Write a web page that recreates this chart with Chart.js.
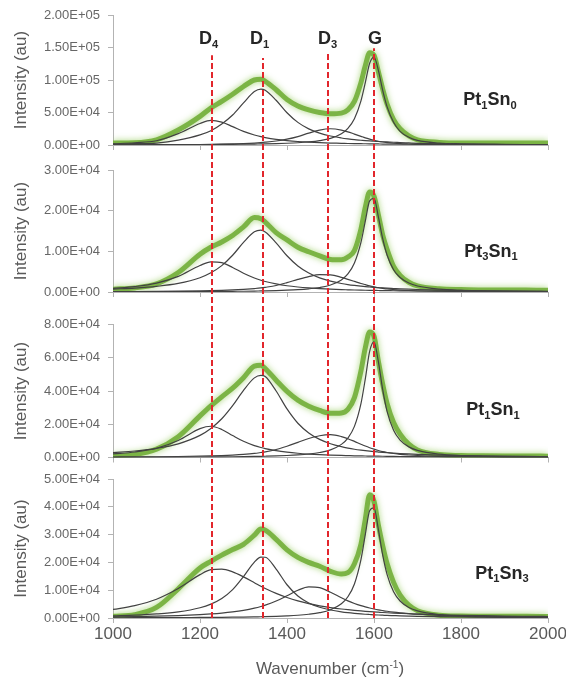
<!DOCTYPE html>
<html>
<head>
<meta charset="utf-8">
<title>Raman spectra fits</title>
<script src="https://cdn.jsdelivr.net/npm/chart.js@4.4.1/dist/chart.umd.min.js"></script>
<style>
  body { margin: 0; background: #fff; }
  #wrap { position: relative; width: 566px; height: 677px; font-family: "Liberation Sans", Arial, sans-serif; }
  #wrap canvas { position: absolute; left: 0; }
  .peak, .sample { position: absolute; font-weight: bold; color: #262626; white-space: nowrap; line-height: 20px; }
  .peak { font-size: 18px; }
  .sample { font-size: 18px; transform: translateX(-50%); }
  .peak sub, .sample sub { font-size: 0.62em; vertical-align: baseline; position: relative; top: 0.32em; }
  #xtitle { position: absolute; left: 330px; top: 659px; transform: translateX(-50%); font-size: 17px; color: #595959; line-height: 20px; white-space: nowrap; }
  #xtitle sup { font-size: 0.6em; vertical-align: baseline; position: relative; top: -0.6em; }
</style>
</head>
<body>
<div id="wrap">
  <canvas id="p1" width="566" height="158" style="top:0px"></canvas>
  <canvas id="p2" width="566" height="152" style="top:158px"></canvas>
  <canvas id="p3" width="566" height="158" style="top:310px"></canvas>
  <canvas id="p4" width="566" height="209" style="top:468px"></canvas>
  <div id="xtitle">Wavenumber (cm<sup>-1</sup>)</div>
</div>
<script>
// --- DATA (intensities in units of 1e3 au) ---
const wavenumber = [1000, 1050, 1100, 1150, 1200, 1225, 1250, 1275, 1300, 1325, 1340, 1350, 1375, 1400, 1425,
  1450, 1475, 1500, 1525, 1540, 1555, 1570, 1580, 1590, 1600, 1610, 1620, 1630, 1645, 1660,
  1680, 1700, 1750, 1800, 1850, 1900, 1950, 2000];
const xTicks = [1000, 1200, 1400, 1600, 1800, 2000];

const peakLabels = ['D<sub>4</sub>', 'D<sub>1</sub>', 'D<sub>3</sub>', 'G'];
const peakPositions = [1227, 1344, 1495, 1600];
const peakLineTops = [138, 134, 141.5, 149]; // where each dashed line starts, top panel units

const sampleLabels = ['Pt<sub>1</sub>Sn<sub>0</sub>', 'Pt<sub>3</sub>Sn<sub>1</sub>', 'Pt<sub>1</sub>Sn<sub>1</sub>', 'Pt<sub>1</sub>Sn<sub>3</sub>'];

const yTicksPt1Sn0 = [0, 50, 100, 150, 200];
const yTicksPt3Sn1 = [0, 10, 20, 30];
const yTicksPt1Sn1 = [0, 20, 40, 60, 80];
const yTicksPt1Sn3 = [0, 10, 20, 30, 40, 50];

// Pt1Sn0
const pt1sn0Measured = [3, 3.5, 8, 23, 44, 57, 67, 78, 90, 100, 101, 98, 85, 70, 60, 54, 50, 48, 49, 54,
  67, 96, 122, 142, 138, 113, 86, 63, 39, 25, 14, 8, 4, 3, 3, 3, 3, 3];
const pt1sn0D4 = [1.8, 3.5, 6.5, 17.5, 33, 38, 35.3, 28.3, 21, 15.4, 12.8, 11.4, 8.7, 6.8, 5.4, 4.4, 3.6, 3.0, 2.6, 2.3,
  2.1, 2.0, 1.9, 1.8, 1.7, 1.6, 1.5, 1.5, 1.35, 1.26, 1.15, 1.06, 0.87, 0.73, 0.62, 0.53, 0.47, 0.41];
const pt1sn0D1 = [1.2, 2.0, 3.0, 7.5, 15.5, 22, 32.4, 46.2, 64.8, 82.2, 86, 84.3, 68.8, 49.6, 34.8, 24.8, 18.2, 13.8, 10.8, 9.4,
  8.2, 7.3, 6.7, 6.2, 5.8, 5.4, 5.0, 4.7, 4.2, 3.8, 3.2, 2.6, 1.7, 1.2, 0.9, 0.8, 0.7, 0.6];
const pt1sn0D3 = [0.2, 0.3, 0.4, 0.6, 0.8, 1.0, 1.3, 1.7, 2.2, 3.0, 3.7, 4.3, 6.2, 9.0, 13, 18.3, 23, 25, 23, 20.3,
  16.8, 13.3, 11, 9, 7.2, 5.8, 4.6, 3.7, 2.7, 2.0, 1.5, 1.1, 0.6, 0.4, 0.3, 0.2, 0.2, 0.1];
const pt1sn0G = [0.3, 0.35, 0.43, 0.53, 0.67, 0.76, 0.87, 1.0, 1.2, 1.4, 1.6, 1.7, 2.1, 2.7, 3.5, 4.7, 6.7, 10.3, 17.4, 25.7,
  40.5, 68, 96, 125.7, 135.3, 114.9, 84, 59, 35, 21, 12, 7, 3, 1.8, 1.2, 0.9, 0.7, 0.6];

// Pt3Sn1
const pt3sn1Measured = [0.7, 1.0, 2.0, 4.8, 9.3, 11.0, 12.3, 13.9, 16.0, 18.3, 18.0, 17.2, 14.6, 12.8, 11.0, 9.9, 8.9, 8.0, 7.9, 8.6,
  10.2, 15.5, 20.8, 24.6, 23.6, 19.0, 14.0, 10.5, 6.3, 4.1, 2.4, 1.5, 0.8, 0.6, 0.5, 0.5, 0.5, 0.4];
const pt3sn1D4 = [0.88, 1.33, 2.17, 3.84, 6.52, 7.43, 7.21, 6.03, 4.63, 3.45, 2.9, 2.59, 1.98, 1.54, 1.23, 1.0, 0.82, 0.69, 0.59, 0.54,
  0.49, 0.45, 0.43, 0.41, 0.39, 0.37, 0.35, 0.34, 0.31, 0.29, 0.27, 0.24, 0.2, 0.17, 0.14, 0.12, 0.11, 0.09];
const pt3sn1D1 = [0.72, 0.97, 1.38, 2.1, 3.5, 4.71, 6.48, 9.03, 12.2, 14.8, 15.2, 14.76, 12.1, 8.91, 6.39, 4.65, 3.46, 2.66, 2.09, 1.82,
  1.61, 1.43, 1.32, 1.23, 1.14, 1.07, 1.0, 0.94, 0.86, 0.78, 0.69, 0.62, 0.48, 0.38, 0.31, 0.26, 0.22, 0.19];
const pt3sn1D3 = [0.1, 0.12, 0.15, 0.2, 0.28, 0.33, 0.4, 0.5, 0.65, 0.85, 1.0, 1.15, 1.6, 2.3, 3.1, 3.8, 4.25, 4.2, 3.6, 3.1,
  2.6, 2.1, 1.8, 1.5, 1.25, 1.05, 0.9, 0.75, 0.6, 0.48, 0.37, 0.3, 0.19, 0.13, 0.1, 0.08, 0.06, 0.05];
const pt3sn1G = [0.05, 0.06, 0.07, 0.09, 0.11, 0.12, 0.14, 0.17, 0.19, 0.23, 0.26, 0.28, 0.35, 0.44, 0.57, 0.78, 1.11, 1.72, 2.97, 4.43,
  7.11, 12.2, 17.4, 22.4, 23.0, 18.5, 13.1, 9.09, 5.48, 3.55, 2.2, 1.48, 0.7, 0.4, 0.26, 0.18, 0.14, 0.1];

// Pt1Sn1
const pt1sn1Measured = [0.8, 1.8, 5.0, 12.5, 25.0, 31.0, 36.5, 41.7, 48.0, 55.0, 55.5, 53.5, 46.5, 39.8, 34.5, 30.8, 28.3, 26.6, 26.8, 29.0,
  36.0, 52.0, 66.0, 75.5, 73.0, 58.0, 44.0, 32.5, 21.0, 14.0, 8.0, 4.5, 1.8, 1.2, 1.0, 0.9, 0.9, 0.8];
const pt1sn1D4 = [2.14, 3.31, 5.59, 10.26, 17.36, 18.8, 16.88, 13.22, 9.76, 7.16, 5.99, 5.34, 4.08, 3.19, 2.55, 2.08, 1.72, 1.45, 1.23, 1.13,
  1.03, 0.95, 0.9, 0.86, 0.81, 0.77, 0.74, 0.71, 0.65, 0.61, 0.56, 0.51, 0.42, 0.35, 0.3, 0.26, 0.23, 0.2];
const pt1sn1D1 = [2.91, 3.91, 5.51, 8.24, 13.3, 17.46, 23.3, 31.2, 40.4, 47.9, 49.4, 48.7, 40, 29.2, 20.6, 14.8, 10.9, 8.3, 6.5, 5.67,
  4.98, 4.41, 4.08, 3.78, 3.52, 3.29, 3.07, 2.88, 2.62, 2.39, 2.13, 1.9, 1.46, 1.16, 0.95, 0.79, 0.67, 0.58];
const pt1sn1D3 = [0.3, 0.36, 0.45, 0.6, 0.8, 0.95, 1.15, 1.45, 1.85, 2.45, 3.0, 3.4, 4.8, 6.8, 9.1, 11.4, 13.1, 13.7, 12.6, 11.3,
  9.7, 8.0, 6.9, 5.9, 5.0, 4.2, 3.5, 3.0, 2.4, 1.9, 1.5, 1.2, 0.7, 0.48, 0.35, 0.27, 0.22, 0.18];
const pt1sn1G = [0.13, 0.16, 0.19, 0.23, 0.3, 0.34, 0.39, 0.45, 0.53, 0.63, 0.7, 0.76, 0.94, 1.19, 1.55, 2.1, 3.0, 4.6, 7.9, 11.7,
  18.7, 32.4, 47.3, 63.9, 69.6, 57.7, 40.8, 27.8, 16.4, 10.5, 6.4, 4.27, 1.99, 1.14, 0.74, 0.51, 0.38, 0.29];

// Pt1Sn3
const pt1sn3Measured = [0.6, 1.2, 3.8, 10.5, 18.0, 20.4, 22.6, 24.6, 26.5, 29.8, 32.0, 31.6, 28.3, 24.5, 21.8, 20.0, 18.6, 16.8, 15.8, 16.3,
  19.5, 26.5, 35.5, 44.3, 42.0, 33.5, 26.0, 19.6, 12.8, 8.2, 4.6, 2.6, 1.0, 0.7, 0.6, 0.6, 0.6, 0.5];
const pt1sn3D4 = [3.07, 4.45, 6.76, 10.6, 15.6, 17.4, 17.6, 16.6, 14.8, 12.7, 11.4, 10.6, 8.85, 7.36, 6.15, 5.18, 4.39, 3.76, 3.24, 2.98,
  2.75, 2.54, 2.41, 2.29, 2.18, 2.08, 1.98, 1.89, 1.77, 1.66, 1.52, 1.4, 1.16, 0.97, 0.83, 0.71, 0.62, 0.54];
const pt1sn3D1 = [0.75, 1.02, 1.45, 2.2, 3.68, 4.99, 7.01, 10.2, 14.9, 20.1, 21.9, 21.85, 17.6, 11.96, 7.91, 5.42, 3.87, 2.87, 2.2, 1.9,
  1.66, 1.46, 1.35, 1.25, 1.15, 1.07, 1.0, 0.93, 0.85, 0.77, 0.68, 0.6, 0.47, 0.38, 0.31, 0.26, 0.22, 0.19];
const pt1sn3D3 = [0.42, 0.52, 0.67, 0.89, 1.23, 1.47, 1.78, 2.2, 2.77, 3.55, 4.15, 4.63, 6.1, 7.99, 9.96, 11.2, 10.9, 9.28, 7.27, 6.17,
  5.23, 4.43, 3.98, 3.59, 3.24, 2.93, 2.67, 2.43, 2.12, 1.87, 1.6, 1.37, 0.98, 0.73, 0.57, 0.46, 0.38, 0.32];
const pt1sn3G = [0.08, 0.1, 0.12, 0.15, 0.19, 0.21, 0.25, 0.29, 0.33, 0.4, 0.45, 0.48, 0.6, 0.76, 0.98, 1.34, 1.91, 2.97, 5.12, 7.63,
  12.25, 21.0, 30.0, 38.6, 39.6, 31.9, 22.6, 15.7, 9.44, 6.12, 3.79, 2.55, 1.2, 0.7, 0.45, 0.32, 0.23, 0.18];

// --- LAYOUT (pixels) ---
const PLOT_LEFT = 113, PLOT_RIGHT = 548, WIDTH = 566;
const panels = [
  { id: 'p1', canvasTop: 0,   padTop: 15,   xHeight: 13,   lastPanel: false, firstPanel: true,
    yTicks: yTicksPt1Sn0, measured: pt1sn0Measured, parts: [pt1sn0D4, pt1sn0D1, pt1sn0D3, pt1sn0G], labelX: 490, labelY: 99.5 },
  { id: 'p2', canvasTop: 158, padTop: 12,   xHeight: 18,   lastPanel: false, firstPanel: false,
    yTicks: yTicksPt3Sn1, measured: pt3sn1Measured, parts: [pt3sn1D4, pt3sn1D1, pt3sn1D3, pt3sn1G], labelX: 491, labelY: 251 },
  { id: 'p3', canvasTop: 310, padTop: 14.5, xHeight: 10.5, lastPanel: false, firstPanel: false,
    yTicks: yTicksPt1Sn1, measured: pt1sn1Measured, parts: [pt1sn1D4, pt1sn1D1, pt1sn1D3, pt1sn1G], labelX: 493, labelY: 409.5 },
  { id: 'p4', canvasTop: 468, padTop: 11,   xHeight: 59,   lastPanel: true,  firstPanel: false,
    yTicks: yTicksPt1Sn3, measured: pt1sn3Measured, parts: [pt1sn3D4, pt1sn3D1, pt1sn3D3, pt1sn3G], labelX: 502, labelY: 573 }
];
const peakLabelLeft = [199, 250, 318, 368];

// 2.00E+05 style tick labels (values held in thousands)
function sciLabel(v) {
  const [m, e] = (v * 1000).toExponential(2).split('e');
  const exp = Math.abs(parseInt(e, 10));
  return m + 'E' + (parseInt(e, 10) < 0 ? '-' : '+') + String(exp).padStart(2, '0');
}

const toPoints = arr => wavenumber.map((x, i) => ({ x: x, y: arr[i] }));

// soft halo round the measured spectrum
const glowPlugin = {
  id: 'glow',
  beforeDatasetDraw(chart, args) {
    if (!chart.data.datasets[args.index].glow) return;
    chart.ctx.save();
    chart.ctx.shadowColor = 'rgba(150, 205, 95, 0.9)';
    chart.ctx.shadowBlur = 6;
  },
  afterDatasetDraw(chart, args) {
    if (chart.data.datasets[args.index].glow) chart.ctx.restore();
  }
};

// red dashed peak markers running through all panels
const peakLinesPlugin = {
  id: 'peakLines',
  afterDatasetsDraw(chart, args, opts) {
    const { ctx, scales: { x, y } } = chart;
    ctx.save();
    ctx.strokeStyle = '#e2262c';
    ctx.lineWidth = 2;
    ctx.setLineDash([6, 3]);
    peakPositions.forEach((pos, i) => {
      const px = Math.round(x.getPixelForValue(pos));
      const y0 = opts.firstPanel ? y.getPixelForValue(peakLineTops[i]) : 0;
      const y1 = opts.lastPanel ? y.getPixelForValue(0) : chart.height;
      ctx.lineDashOffset = opts.canvasTop + y0;
      ctx.beginPath();
      ctx.moveTo(px, y0);
      ctx.lineTo(px, y1);
      ctx.stroke();
    });
    ctx.restore();
  }
};

function buildPanel(p) {
  const datasets = p.parts.map(arr => ({
    data: toPoints(arr),
    borderColor: '#424242',
    borderWidth: 1.2,
    pointRadius: 0,
    cubicInterpolationMode: 'monotone'
  }));
  datasets.push({
    data: toPoints(p.measured),
    borderColor: 'rgba(116, 176, 60, 0.92)',
    borderWidth: 5,
    pointRadius: 0,
    cubicInterpolationMode: 'monotone',
    glow: true
  });

  const axisGrey = '#b3b3b3';

  new Chart(document.getElementById(p.id), {
    type: 'line',
    data: { datasets: datasets },
    options: {
      responsive: false,
      animation: false,
      events: [],
      layout: { padding: { top: p.padTop, left: 0, right: WIDTH - PLOT_RIGHT, bottom: 0 } },
      plugins: {
        legend: { display: false },
        tooltip: { enabled: false },
        peakLines: { firstPanel: p.firstPanel, lastPanel: p.lastPanel, canvasTop: p.canvasTop }
      },
      scales: {
        x: {
          type: 'linear',
          min: 1000,
          max: 2000,
          afterBuildTicks: s => { s.ticks = xTicks.map(v => ({ value: v })); },
          afterFit: s => { s.height = p.xHeight; s.paddingLeft = 0; s.paddingRight = 0; },
          grid: { drawOnChartArea: false, drawTicks: true, tickLength: 5, color: axisGrey },
          border: { color: axisGrey, width: 1 },
          ticks: {
            display: p.lastPanel,
            padding: 1,
            color: '#595959',
            font: { family: '"Liberation Sans", Arial, sans-serif', size: 17 },
            callback: v => String(v)
          }
        },
        y: {
          min: p.yTicks[0],
          max: p.yTicks[p.yTicks.length - 1],
          afterBuildTicks: s => { s.ticks = p.yTicks.map(v => ({ value: v })); },
          afterFit: s => { s.width = PLOT_LEFT; s.paddingTop = 0; s.paddingBottom = 0; },
          grid: { drawOnChartArea: false, drawTicks: true, tickLength: 5, color: axisGrey },
          border: { color: axisGrey, width: 1 },
          ticks: {
            padding: 8,
            color: '#666666',
            font: { family: '"Liberation Sans", Arial, sans-serif', size: 13 },
            callback: v => sciLabel(v)
          },
          title: {
            display: true,
            text: 'Intensity (au)',
            color: '#595959',
            padding: { top: 11, bottom: 0 },
            font: { family: '"Liberation Sans", Arial, sans-serif', size: 17 }
          }
        }
      }
    },
    plugins: [glowPlugin, peakLinesPlugin]
  });
}

panels.forEach(buildPanel);

// text labels with subscripts
const wrap = document.getElementById('wrap');
peakLabels.forEach((txt, i) => {
  const d = document.createElement('div');
  d.className = 'peak';
  d.innerHTML = txt;
  d.style.left = peakLabelLeft[i] + 'px';
  d.style.top = (38 - 9.8) + 'px';
  wrap.appendChild(d);
});
panels.forEach((p, i) => {
  const d = document.createElement('div');
  d.className = 'sample';
  d.innerHTML = sampleLabels[i];
  d.style.left = p.labelX + 'px';
  d.style.top = (p.labelY - 10.3) + 'px';
  wrap.appendChild(d);
});
</script>
</body>
</html>
